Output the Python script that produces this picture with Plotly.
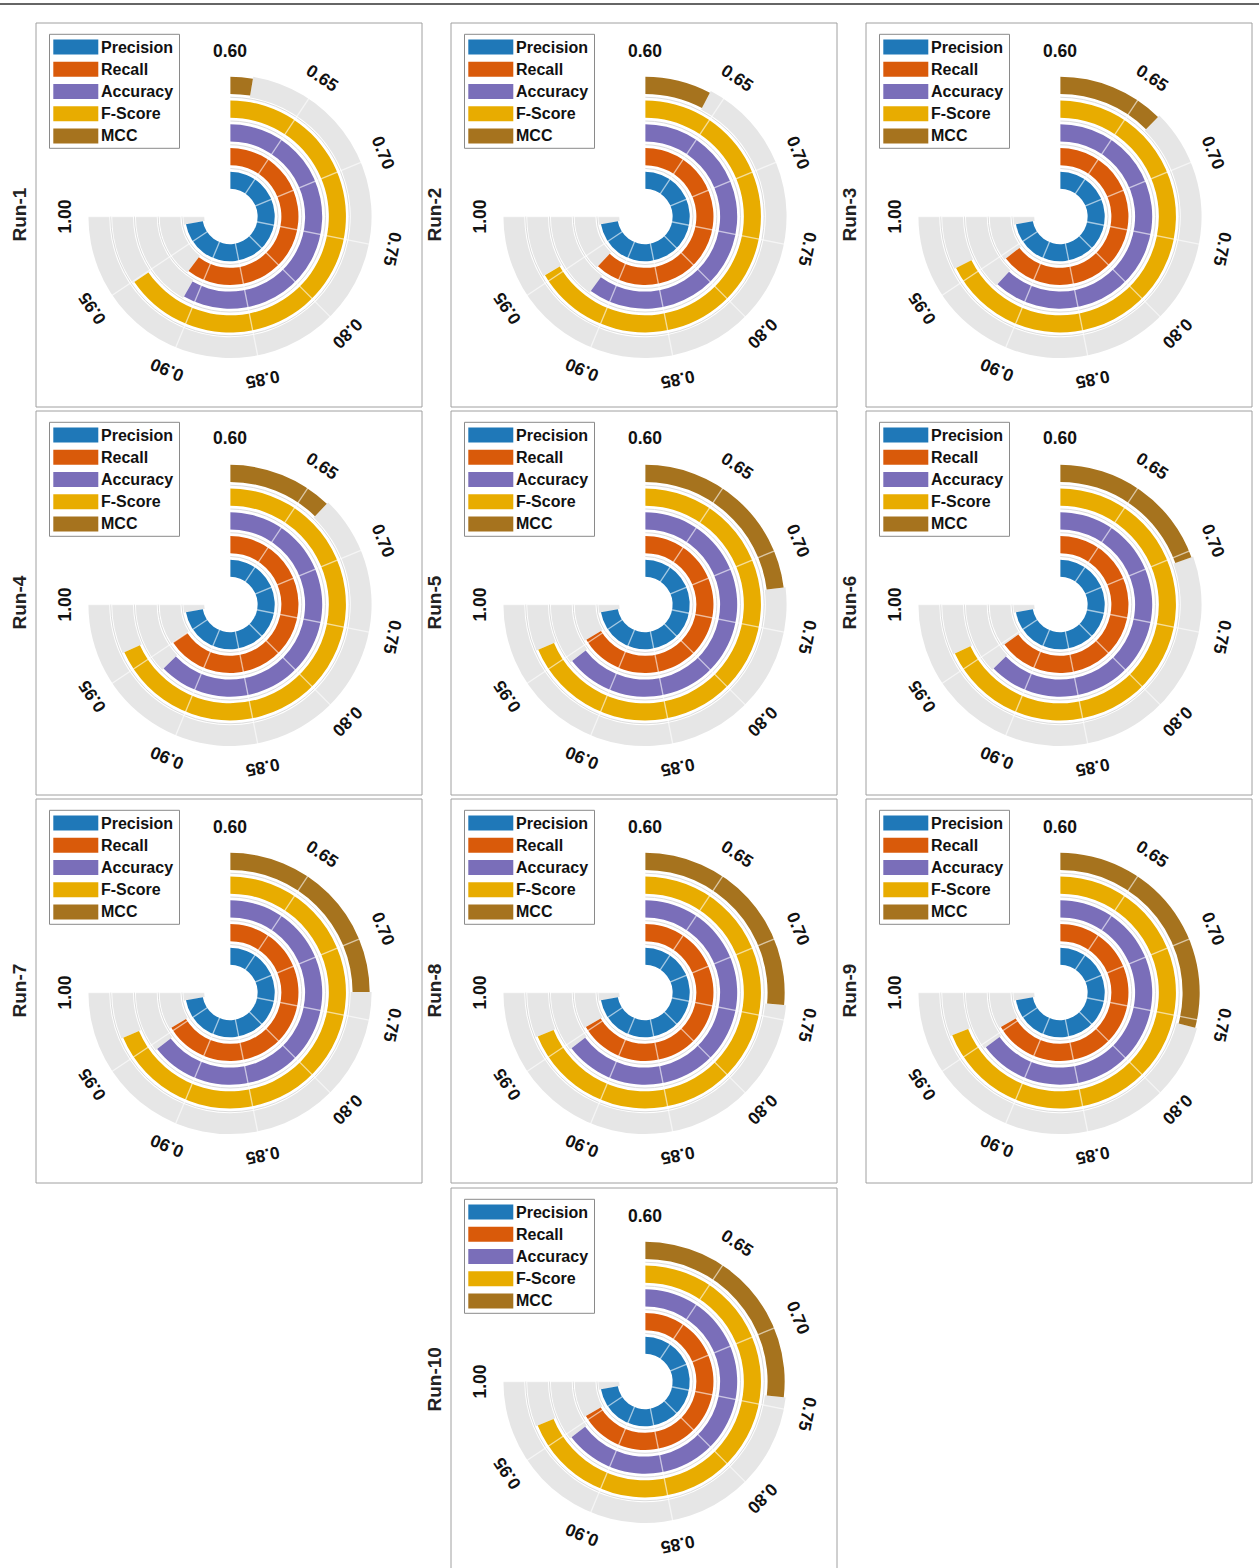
import math
import plotly.graph_objects as go

# ---------------- data ----------------
metrics = ["Precision", "Recall", "Accuracy", "F-Score", "MCC"]
runs = ["Run-1", "Run-2", "Run-3", "Run-4", "Run-5",
        "Run-6", "Run-7", "Run-8", "Run-9", "Run-10"]
precision = [0.985, 0.985, 0.985, 0.985, 0.985, 0.985, 0.985, 0.985, 0.985, 0.985]
recall    = [0.922, 0.931, 0.944, 0.950, 0.954, 0.947, 0.954, 0.955, 0.955, 0.955]
accuracy  = [0.911, 0.920, 0.930, 0.935, 0.944, 0.935, 0.944, 0.945, 0.946, 0.945]
fscore    = [0.949, 0.955, 0.961, 0.964, 0.966, 0.963, 0.966, 0.967, 0.968, 0.967]
mcc       = [0.614, 0.641, 0.666, 0.665, 0.723, 0.704, 0.733, 0.741, 0.755, 0.743]
tick_values = [0.60, 0.65, 0.70, 0.75, 0.80, 0.85, 0.90, 0.95, 1.00]
tick_labels = ["0.60", "0.65", "0.70", "0.75", "0.80", "0.85", "0.90", "0.95", "1.00"]

series = [precision, recall, accuracy, fscore, mcc]

# ---------------- style ----------------
colors = ["#1f78b8", "#d95a0a", "#7a6eb9", "#e8ac00", "#a6731e"]
track_color = "#e6e6e6"
FONT = "Liberation Sans, Arial, sans-serif"
W, H = 1259, 1568
V_MIN, V_MAX, SPAN = 0.60, 1.00, 270.0
R_OUT = 143.0
HOLE = 0.17
col_cx = [230, 645, 1060]
row_cy = [216.5, 604.5, 992.5, 1381.5]
panel_pos = [(0, 0), (1, 0), (2, 0), (0, 1), (1, 1), (2, 1),
             (0, 2), (1, 2), (2, 2), (1, 3)]


def to_deg(v):
    return (v - V_MIN) / (V_MAX - V_MIN) * SPAN


def px(x):
    return x / W


def py(y):
    return 1 - y / H


fig = go.Figure()
shapes = []
annotations = []

# top rule
shapes.append(dict(type="line", xref="paper", yref="paper", x0=0, x1=1,
                   y0=py(4), y1=py(4), line=dict(color="#333333", width=1.5)))

for k, run in enumerate(runs):
    col, row = panel_pos[k]
    cx, cy = col_cx[col], row_cy[row]
    sub = "polar" if k == 0 else f"polar{k + 1}"

    for i, name in enumerate(metrics):
        v = series[i][k]
        d = to_deg(v)
        # remaining background track (value -> 1.00)
        fig.add_trace(go.Barpolar(
            r=[0.88], base=[i + 0.06], theta=[(d + SPAN) / 2], width=[SPAN - d],
            marker=dict(color=track_color, line=dict(width=0)),
            subplot=sub, showlegend=False, hoverinfo="skip"))
        # value bar (0.60 -> value)
        fig.add_trace(go.Barpolar(
            r=[0.72], base=[i + 0.14], theta=[d / 2], width=[d],
            marker=dict(color=colors[i], line=dict(width=0)),
            name=name, subplot=sub, showlegend=False,
            hovertemplate=f"{run} {name}: {v:.3f}<extra></extra>"))

    # radial grid lines drawn over the bars
    gr, gt = [], []
    for t in tick_values:
        gr += [0, 5, None]
        gt += [to_deg(t), to_deg(t), None]
    fig.add_trace(go.Scatterpolar(
        r=gr, theta=gt, mode="lines", subplot=sub, showlegend=False,
        hoverinfo="skip", line=dict(color="rgba(255,255,255,0.6)", width=1.3)))

    fig.update_layout(**{sub: dict(
        domain=dict(x=[px(cx - R_OUT), px(cx + R_OUT)],
                    y=[py(cy + R_OUT), py(cy - R_OUT)]),
        sector=[180, 450], hole=HOLE, bgcolor="rgba(0,0,0,0)",
        barmode="overlay",
        angularaxis=dict(rotation=90, direction="clockwise", tickmode="array",
                         tickvals=[to_deg(t) for t in tick_values],
                         showticklabels=False, ticks="", showline=False,
                         showgrid=False),
        radialaxis=dict(range=[0, 5], tickmode="array", tickvals=[0, 1, 2, 3, 4, 5],
                        showticklabels=False, ticks="", showline=False,
                        showgrid=True, gridcolor="#dcdcdc", gridwidth=1),
    )})

    # panel box
    shapes.append(dict(type="rect", xref="paper", yref="paper",
                       x0=px(cx - 194), x1=px(cx + 192),
                       y0=py(cy + 190.5), y1=py(cy - 193.5),
                       line=dict(color="#a0a0a0", width=1), fillcolor="rgba(0,0,0,0)"))

    # tick labels around the arc
    for t, lab in zip(tick_values, tick_labels):
        phi = to_deg(t)
        lx = cx + 166 * math.sin(math.radians(phi))
        ly = cy - 166 * math.cos(math.radians(phi))
        annotations.append(dict(x=px(lx), y=py(ly), xref="paper", yref="paper",
                                text=lab, showarrow=False, textangle=phi,
                                xanchor="center", yanchor="middle",
                                font=dict(family=FONT, size=17.5, color="#111111",
                                          weight="bold")))

    # legend
    shapes.append(dict(type="rect", xref="paper", yref="paper",
                       x0=px(cx - 180.5), x1=px(cx - 50.5),
                       y0=py(cy - 68.2), y1=py(cy - 182.2),
                       line=dict(color="#8a8a8a", width=1), fillcolor="white"))
    for i, name in enumerate(metrics):
        yc = cy - 169.4 + 22.2 * i
        shapes.append(dict(type="rect", xref="paper", yref="paper",
                           x0=px(cx - 176.7), x1=px(cx - 131.7),
                           y0=py(yc + 7.5), y1=py(yc - 7.5),
                           line=dict(width=0), fillcolor=colors[i]))
        annotations.append(dict(x=px(cx - 131.5), y=py(yc), xref="paper", yref="paper",
                                text=name, showarrow=False, xanchor="left",
                                yanchor="middle",
                                font=dict(family=FONT, size=16, color="#111111",
                                          weight="bold")))

    # run label
    annotations.append(dict(x=px(cx - 211), y=py(cy - 2), xref="paper", yref="paper",
                            text=run, showarrow=False, textangle=-90,
                            xanchor="center", yanchor="middle",
                            font=dict(family=FONT, size=19, color="#222222",
                                      weight="bold")))

fig.update_layout(width=W, height=H, margin=dict(l=0, r=0, t=0, b=0),
                  paper_bgcolor="white", plot_bgcolor="white",
                  showlegend=False, shapes=shapes, annotations=annotations)

fig.write_html("out.html", config={"displayModeBar": False},
               post_script="document.body.style.margin='0';")
